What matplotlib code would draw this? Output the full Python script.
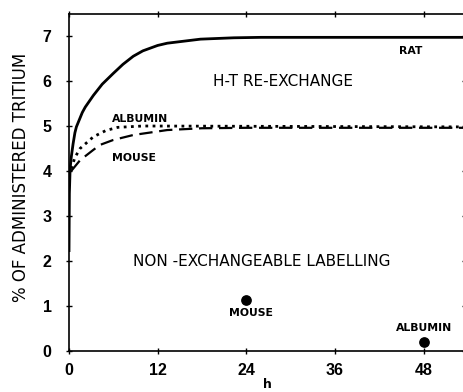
import matplotlib
matplotlib.use("Agg")
import matplotlib.pyplot as plt

# data
rat_t = [0, 0.05, 0.15, 0.3, 0.55, 0.8, 1.0, 1.3, 1.8, 2.2, 3.3, 4.5, 6, 7.3, 8.7, 10, 12, 13.3, 17.8, 22.3, 26, 54]
rat_v = [2.2, 3.5, 4.05, 4.3, 4.6, 4.85, 4.98, 5.1, 5.3, 5.42, 5.68, 5.93, 6.17, 6.37, 6.55, 6.67, 6.79, 6.84, 6.93, 6.96, 6.97, 6.97]

alb_t = [0.3, 0.8, 1.5, 3.3, 5, 6.6, 10, 54]
alb_v = [4.05, 4.3, 4.5, 4.76, 4.9, 4.97, 5.0, 4.98]

mouse_t = [0.3, 1.5, 3.3, 4.2, 6, 8.7, 13.3, 18, 24, 54]
mouse_v = [4.0, 4.24, 4.47, 4.58, 4.69, 4.8, 4.91, 4.95, 4.96, 4.96]

point_t = [24, 48]
point_v = [1.13, 0.2]
point_labels = ["MOUSE", "ALBUMIN"]

xticks = [0, 12, 24, 36, 48]
yticks = [0, 1, 2, 3, 4, 5, 6, 7]

tickfont = ["Liberation Sans", "DejaVu Sans"]

fig = plt.figure(figsize=(4.64, 3.92), dpi=100)
ax = fig.add_axes([69/464, 41/392, 1 - 69/464 + 0.002, 337.5/392])
ax.set_xlim(0, 53.6)
ax.set_ylim(0, 7.5)

ax.plot(rat_t, rat_v, color="black", lw=2.0, solid_capstyle="butt")
ax.plot(alb_t, alb_v, color="black", lw=2.0, linestyle=(0, (1, 1.6)))
ax.plot(mouse_t, mouse_v, color="black", lw=1.6, linestyle=(0, (6, 3)))
ax.scatter(point_t, point_v, s=45, color="black", zorder=3)

fs = 7.8
ax.text(24.6, point_v[0] - 0.17, point_labels[0], ha="center", va="top",
        fontsize=fs, fontweight="bold")
ax.text(point_t[1] + 0.1, point_v[1] + 0.2, point_labels[1], ha="center", va="bottom",
        fontsize=fs, fontweight="bold")

ax.text(46.3, 6.78, "RAT", ha="center", va="top", fontsize=fs, fontweight="bold")
ax.text(5.8, 5.05, "ALBUMIN", ha="left", va="bottom", fontsize=fs, fontweight="bold")
ax.text(5.8, 4.4, "MOUSE", ha="left", va="top", fontsize=fs, fontweight="bold")

ax.text(19.5, 6.0, "H-T RE-EXCHANGE", ha="left", va="center", fontsize=11)
ax.text(8.7, 2.0, "NON -EXCHANGEABLE LABELLING", ha="left", va="center", fontsize=11)

ax.set_xticks(xticks)
ax.set_yticks(yticks)
ax.set_xticklabels([str(v) for v in xticks], fontsize=11.5, fontweight="bold", family=tickfont)
ax.set_yticklabels([str(v) for v in yticks], fontsize=11.5, fontweight="bold", family=tickfont)
ax.tick_params(direction="inout", length=5, width=1, top=True, right=True)
ax.tick_params(axis="x", pad=6)
ax.tick_params(axis="y", pad=10)
for s in ax.spines.values():
    s.set_linewidth(1.2)

ax.set_ylabel("% OF ADMINISTERED TRITIUM", fontsize=12)
ax.yaxis.set_label_coords((30 - 69) / 395, (351 - 177.5) / 337.5)
ax.set_xlabel("h", fontsize=9, fontweight="bold")
ax.xaxis.set_label_coords((267 - 69) / 395, (351 - 378) / 337.5)

fig.savefig("out.png", dpi=100)
